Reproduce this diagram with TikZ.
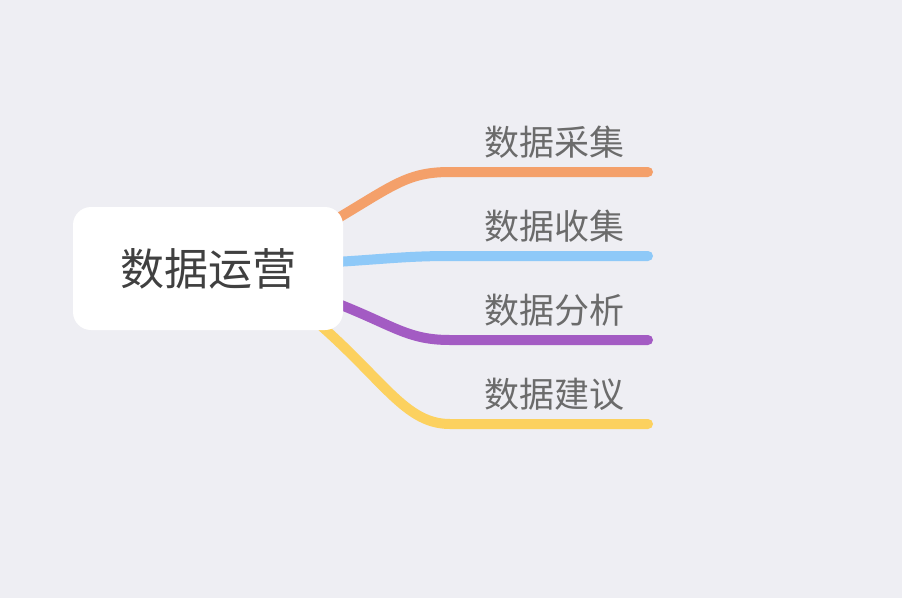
\documentclass[tikz,border=0pt]{standalone}
\usepackage{fontspec}
\newfontfamily\cjk{Noto Sans CJK SC}
\definecolor{bg}{HTML}{EEEEF3}
\definecolor{co}{HTML}{F4A06A}
\definecolor{cb}{HTML}{8EC9F8}
\definecolor{cp}{HTML}{A35BC3}
\definecolor{cy}{HTML}{FCD15F}
\begin{document}
\begin{tikzpicture}[x=1pt,y=-1pt,
  br/.style={line width=10pt,line cap=round},
  lab/.style={font=\cjk\fontsize{35}{40}\selectfont,text=black!58,anchor=base}]
\fill[bg] (0,0) rectangle (902,598);
\useasboundingbox (0,0) rectangle (902,598);
\coordinate (s1) at (300,240); \coordinate (e1) at (648,172);
\coordinate (s2) at (300,264); \coordinate (e2) at (648,256);
\coordinate (s3) at (300,290); \coordinate (e3) at (648,340);
\coordinate (s4) at (290,300); \coordinate (e4) at (648,424);
\draw[br,co] (s1) .. controls (390,190) and (400,172) .. (450,172) -- (e1);
\draw[br,cb] (s2) .. controls (380,260) and (400,256) .. (450,256) -- (e2);
\draw[br,cp] (s3) .. controls (390,320) and (400,340) .. (450,340) -- (e3);
\draw[br,cy] (s4) .. controls (380,370) and (400,424) .. (450,424) -- (e4);
\node[fill=white,rounded corners=18pt,minimum width=270pt,minimum height=123pt,
  font=\cjk\fontsize{44}{50}\selectfont,text=black!75] (root) at (208,268.5) {数据运营};
\node[lab] (l1) at (554,155) {数据采集};
\node[lab] (l2) at (554,239) {数据收集};
\node[lab] (l3) at (554,323) {数据分析};
\node[lab] (l4) at (554,407) {数据建议};
\end{tikzpicture}
\end{document}
